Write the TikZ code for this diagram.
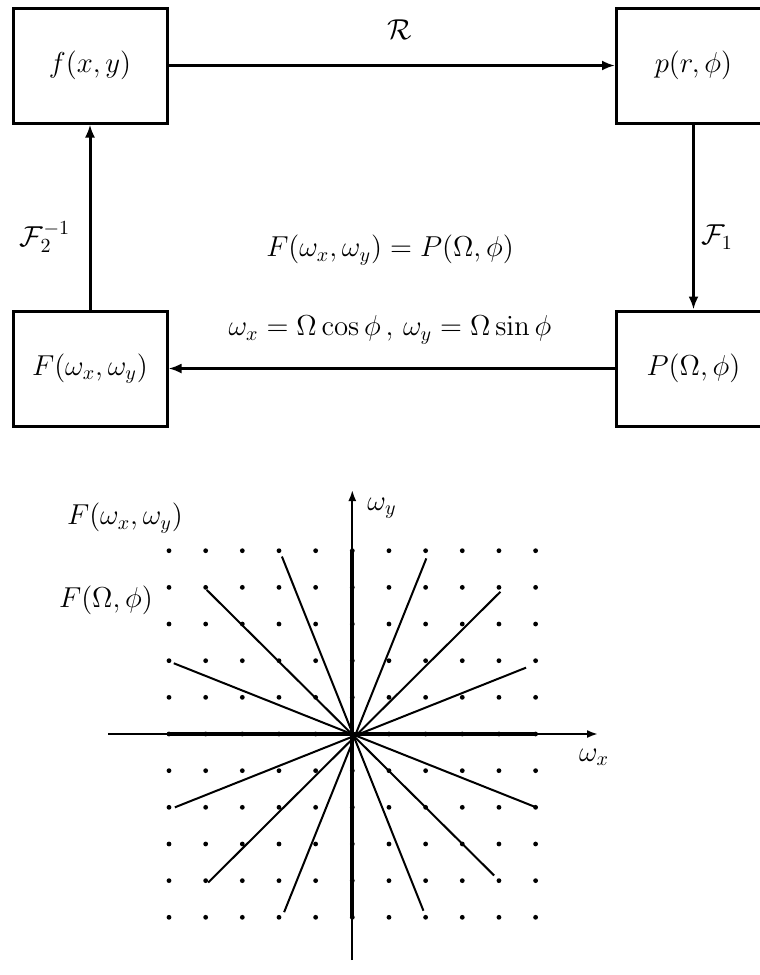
\documentclass[tikz,border=0pt]{standalone}
\usetikzlibrary{arrows.meta}
\begin{document}
\begin{tikzpicture}[x=0.5pt,y=-0.5pt,
  box/.style={draw,line width=1.5pt,minimum width=77pt,minimum height=57.5pt,inner sep=0pt,font=\Large},
  flow/.style={line width=1.5pt,-{Latex[length=6.5pt,width=5pt]}},
  lab/.style={font=\Large,inner sep=0pt},
  axis/.style={line width=1pt,-{Latex[length=5.5pt,width=4pt]}},
  ray/.style={line width=1pt},
  bold/.style={line width=2pt}]
\useasboundingbox (0,0) rectangle (760,975);
\clip (0,0) rectangle (760,975);
% boxes
\node[box] (f) at (90,65.5) {$f(x,y)$};
\node[box] (p) at (693.5,65.5) {$p(r,\phi)$};
\node[box] (P) at (693.5,368.5) {$P(\Omega,\phi)$};
\node[box] (F) at (90,368.5) {$F(\omega_x,\omega_y)$};
% arrows
\draw[flow] (f.east) -- (p.west);
\draw[flow] (p.south) -- (P.north);
\draw[flow] (P.west) -- (F.east);
\draw[flow] (F.north) -- (f.south);
% labels
\node[lab] (lR) at (400,30) {$\mathcal{R}$};
\node[lab] (lF1) at (717,237) {$\mathcal{F}_1$};
\node[lab] (lF2) at (45,237) {$\mathcal{F}_2^{-1}$};
\node[lab] (eq1) at (390,250) {$F(\omega_x,\omega_y) = P(\Omega,\phi)$};
\node[lab] (eq2) at (390,330) {$\omega_x = \Omega\cos\phi\,,\,\omega_y = \Omega\sin\phi$};
% grid
\coordinate (O) at (352.3,734);
\coordinate (xs) at (108,734);
\coordinate (xe) at (598,734);
\coordinate (ys) at (352.3,960);
\coordinate (ye) at (352.3,490);
\draw[axis] (xs) -- (xe);
\draw[axis] (ys) -- (ye);
\node[lab] (wy) at (382,508) {$\omega_y$};
\node[lab] (wx) at (594,757) {$\omega_x$};
\node[lab] (Fw) at (125,518) {$F(\omega_x,\omega_y)$};
\node[lab] (FO) at (106,600) {$F(\Omega,\phi)$};
\begin{scope}[shift={(O)},x=18.33pt,y=18.33pt]
  \foreach \i in {-5,...,5}
    \foreach \j in {-5,...,5}
      \fill (\i,\j) circle (1.2pt);
  \draw[bold] (-5,0) -- (5,0);
  \draw[bold] (0,-5) -- (0,5);
  \draw[ray] (-4.87,1.93) -- (5.04,-2.01);
  \draw[ray] (4.74,1.81) -- (-4.84,-2.0);
  \draw[ray] (-3.97,3.93) -- (3.87,-3.86);
  \draw[ray] (4.04,3.88) -- (-3.93,-4.05);
  \draw[ray] (-1.92,4.84) -- (1.94,-4.82);
  \draw[ray] (2.02,4.79) -- (-1.86,-4.86);
\end{scope}
\end{tikzpicture}
\end{document}
